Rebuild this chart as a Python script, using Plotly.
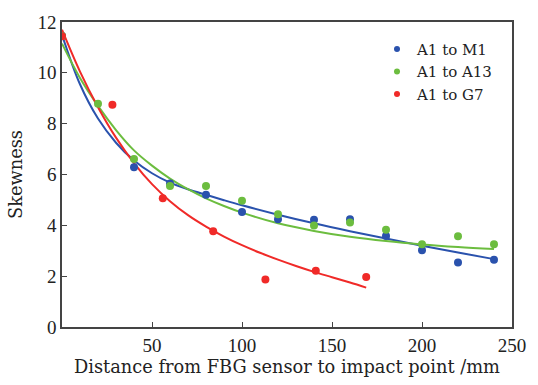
import plotly.graph_objects as go

# Measured points
m1_x = [0, 40, 60, 80, 100, 120, 140, 160, 180, 200, 220, 240]
m1_y = [11.45, 6.29, 5.65, 5.20, 4.52, 4.24, 4.22, 4.24, 3.58, 3.02, 2.54, 2.65]

a13_x = [0, 20, 40, 60, 80, 100, 120, 140, 160, 180, 200, 220, 240]
a13_y = [11.45, 8.78, 6.61, 5.55, 5.55, 4.97, 4.44, 3.99, 4.11, 3.83, 3.26, 3.57, 3.26]

g7_x = [0, 28, 56, 84, 113, 141, 169]
g7_y = [11.44, 8.74, 5.07, 3.77, 1.87, 2.21, 1.97]

# Fitted curves
m1_fit_x = [0, 10, 20, 30, 40, 50, 60, 70, 80, 90, 100, 120, 140, 160, 180, 200, 220, 240]
m1_fit_y = [11.5, 9.55, 8.2, 7.25, 6.55, 6.05, 5.68, 5.42, 5.2, 4.99, 4.79, 4.42, 4.08, 3.77, 3.48, 3.2, 2.93, 2.67]

a13_fit_x = [0, 10, 20, 30, 40, 50, 60, 70, 80, 90, 100, 120, 140, 160, 180, 200, 220, 240]
a13_fit_y = [11.15, 9.8, 8.7, 7.75, 6.95, 6.35, 5.84, 5.42, 5.06, 4.76, 4.5, 4.08, 3.78, 3.55, 3.38, 3.25, 3.15, 3.07]

g7_fit_x = [0, 10, 20, 30, 40, 50, 60, 70, 80, 90, 100, 110, 120, 130, 140, 150, 160, 169]
g7_fit_y = [11.7, 10.05, 8.65, 7.45, 6.45, 5.62, 4.95, 4.4, 3.95, 3.56, 3.22, 2.92, 2.65, 2.4, 2.17, 1.96, 1.75, 1.55]

names = ["A1 to M1", "A1 to A13", "A1 to G7"]
colors = ["#2a52ad", "#6cbd3f", "#f02a28"]

x_ticks = [50, 100, 150, 200, 250]
y_ticks = [0, 2, 4, 6, 8, 10, 12]

tick_font = "Liberation Serif, serif"
text_font = "DejaVu Serif, serif"

fig = go.Figure()

series = [
    (m1_x, m1_y, m1_fit_x, m1_fit_y),
    (a13_x, a13_y, a13_fit_x, a13_fit_y),
    (g7_x, g7_y, g7_fit_x, g7_fit_y),
]

for (px_, py_, fx, fy), name, col in zip(series, names, colors):
    fig.add_trace(go.Scatter(x=fx, y=fy, mode="lines", line=dict(color=col, width=2, shape="spline", smoothing=1.0),
                             showlegend=False, hoverinfo="skip"))
for (px_, py_, fx, fy), name, col in zip(series, names, colors):
    fig.add_trace(go.Scatter(x=px_, y=py_, mode="markers", marker=dict(color=col, size=8),
                             showlegend=False, name=name))
for name, col in zip(names, colors):
    fig.add_trace(go.Scatter(x=[None], y=[None], mode="markers", marker=dict(color=col, size=6),
                             name=name, showlegend=True))

axis_common = dict(
    showline=True, linecolor="#444444", linewidth=1.5, mirror=True,
    ticks="inside", ticklen=5, tickwidth=1.2, tickcolor="#444444",
    showgrid=False, zeroline=False,
    tickfont=dict(family=tick_font, size=19, color="#222222"),
)

fig.update_layout(
    width=538, height=385,
    margin=dict(l=62, r=21, t=16, b=56),
    paper_bgcolor="white", plot_bgcolor="white",
    font=dict(family=text_font, size=17, color="#222222"),
    xaxis=dict(range=[0, 250], tickvals=x_ticks, ticktext=[str(v) for v in x_ticks],
               title=dict(text="Distance from FBG sensor to impact point /mm",
                          font=dict(family=text_font, size=17.8), standoff=5),
               **axis_common),
    yaxis=dict(range=[0, 12], tickvals=y_ticks, ticktext=[str(v) for v in y_ticks],
               title=dict(text="Skewness", font=dict(family=text_font, size=17.8), standoff=10),
               **axis_common),
    legend=dict(x=0.70, y=0.965, xanchor="left", yanchor="top", bgcolor="rgba(0,0,0,0)",
                font=dict(family=text_font, size=15), itemwidth=30, tracegroupgap=0),
)

fig.write_html("out.html")
